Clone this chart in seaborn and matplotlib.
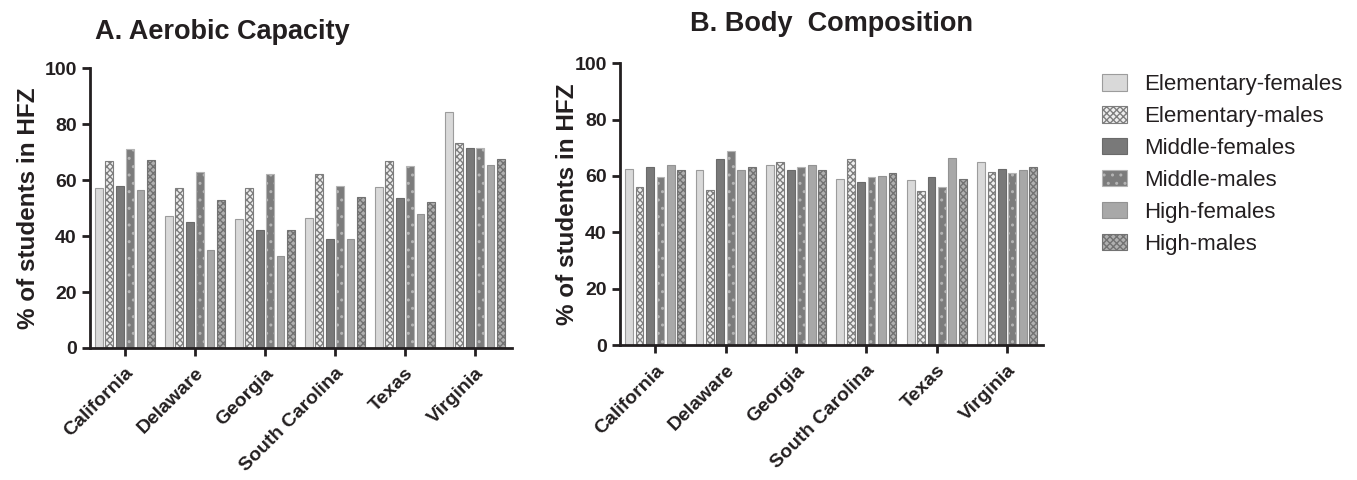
import numpy as np
import pandas as pd
import matplotlib
matplotlib.use("Agg")
import matplotlib.pyplot as plt
from matplotlib.patches import Patch
import seaborn as sns

# Dados
states = ["California", "Delaware", "Georgia", "South Carolina", "Texas", "Virginia"]
groups = ["Elementary-females", "Elementary-males", "Middle-females",
          "Middle-males", "High-females", "High-males"]

# A. Aerobic Capacity (% HFZ), uma lista por grupo, na ordem dos estados
aerobic_elem_f = [57, 47, 46, 46.5, 57.5, 84.5]
aerobic_elem_m = [67, 57, 57, 62, 67, 73.3]
aerobic_mid_f = [58, 45, 42, 39, 53.5, 71.3]
aerobic_mid_m = [71, 63, 62, 58, 65, 71.3]
aerobic_high_f = [56.5, 35, 33, 38.8, 47.8, 65.5]
aerobic_high_m = [67.3, 53, 42, 54, 52, 67.5]

# B. Body Composition (% HFZ)
body_elem_f = [62.5, 62, 64, 59, 58.5, 65]
body_elem_m = [56, 55, 65, 66, 54.5, 61.5]
body_mid_f = [63, 66, 62, 58, 59.5, 62.5]
body_mid_m = [59.5, 69, 63, 59.5, 56, 61]
body_high_f = [64, 62, 64, 60, 66.5, 62]
body_high_m = [62, 63, 62, 61, 59, 63]

# estilos de cada grupo: (cor, borda, hachura)
faces = ["#d9d9d9", "#eeeeee", "#797979", "#7c7c7c", "#a8a8a8", "#b0b0b0"]
edges = ["#9c9c9c", "#7e7e7e", "#6a6a6a", "#b4b4b4", "#939393", "#727272"]
hatches = [None, "xxxxx", None, "..", None, "xxxxx"]


def montar_df(series):
    linhas = []
    for g, vals in zip(groups, series):
        for s, v in zip(states, vals):
            linhas.append({"state": s, "group": g, "value": v})
    return pd.DataFrame(linhas)


df_a = montar_df([aerobic_elem_f, aerobic_elem_m, aerobic_mid_f,
                  aerobic_mid_m, aerobic_high_f, aerobic_high_m])
df_b = montar_df([body_elem_f, body_elem_m, body_mid_f,
                  body_mid_m, body_high_f, body_high_m])

sns.set_theme(style="ticks")
plt.rcParams["font.family"] = ["Liberation Sans", "DejaVu Sans"]
plt.rcParams["hatch.linewidth"] = 1.0

fig = plt.figure(figsize=(13.57, 4.8), dpi=100)
ax_a = fig.add_axes([0.0663, 0.275, 0.311, 0.583])
ax_b = fig.add_axes([0.4569, 0.281, 0.3117, 0.5875])


def desenhar(ax, df, titulo, xlim, pad_y, pad_t):
    sns.barplot(data=df, x="state", y="value", hue="group", order=states,
                hue_order=groups, palette=faces, width=0.89, gap=0.25,
                errorbar=None, legend=False, ax=ax)
    for i, cont in enumerate(ax.containers):
        for bar in cont:
            bar.set_facecolor(faces[i])
            bar.set_edgecolor(edges[i])
            bar.set_linewidth(0.8)
            if hatches[i]:
                bar.set_hatch(hatches[i])
    ax.set_ylim(0, 100)
    ax.set_xlim(*xlim)
    ax.set_yticks([0, 20, 40, 60, 80, 100])
    ax.set_xlabel("")
    ax.set_ylabel("% of students in HFZ", fontsize=17.5, fontweight="bold",
                  color="#231f20", labelpad=pad_y)
    ax.set_title(titulo, fontsize=19.5, fontweight="bold", color="#231f20",
                 pad=pad_t)
    ax.tick_params(axis="both", direction="out", length=6, width=2,
                   colors="#231f20", labelsize=14)
    ax.tick_params(axis="x", labelsize=14, pad=6)
    for lab in ax.get_xticklabels() + ax.get_yticklabels():
        lab.set_fontweight("bold")
    for lab in ax.get_xticklabels():
        lab.set_rotation(45)
        lab.set_ha("right")
        lab.set_rotation_mode("anchor")
    sns.despine(ax=ax)
    for sp in ["left", "bottom"]:
        ax.spines[sp].set_linewidth(2)
        ax.spines[sp].set_color("#231f20")


desenhar(ax_a, df_a, "A. Aerobic Capacity", (-0.5, 5.53), 3.5, 21)
ax_a.title.set_position((0.313, 1.0))
desenhar(ax_b, df_b, "B. Body  Composition", (-0.5, 5.51), -3, 23)
ax_b.title.set_position((0.499, 1.0))

# legenda manual com as hachuras
handles = [Patch(facecolor=faces[i], edgecolor=edges[i], hatch=hatches[i],
                 linewidth=0.8) for i in range(len(groups))]
fig.legend(handles, groups, loc="upper left", bbox_to_anchor=(0.797, 0.887),
           frameon=False, fontsize=16, handlelength=1.15, handleheight=0.75,
           labelspacing=0.49, handletextpad=0.75, labelcolor="#231f20")

fig.savefig("out.png", dpi=100)
